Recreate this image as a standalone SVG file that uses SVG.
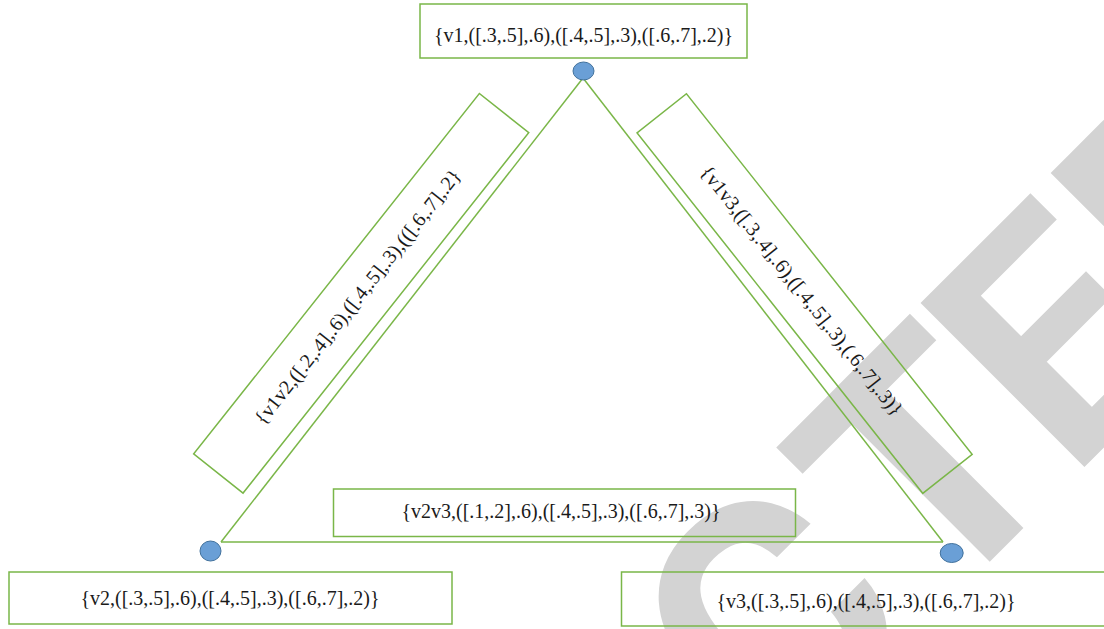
<svg xmlns="http://www.w3.org/2000/svg" width="1104" height="629" viewBox="0 0 1104 629">
  <style>
    .box { fill: none; stroke: #7ab648; stroke-width: 1.5; }
    .edge { fill: none; stroke: #7ab648; stroke-width: 1.5; }
    .vertex { fill: #6a9fd6; stroke: #41719c; stroke-width: 1; }
    .label { font-family: "Liberation Serif", "Times New Roman", serif; font-size: 20px; fill: #1a1a1a; text-anchor: middle; }
    .mark { font-family: Roboto, "Liberation Sans", sans-serif; font-weight: 700; font-size: 326px; fill: #d3d3d3; }
  </style>
  <rect width="1104" height="629" fill="#ffffff"/>

  <!-- background stamp -->
  <g id="stamp">
    <text class="mark" transform="rotate(-45)" x="0 226 416 600" y="1097">CTED</text>
  </g>

  <!-- triangle connecting the three vertices -->
  <g id="connectors">
    <line class="edge" x1="583" y1="78" x2="221" y2="542"/>
    <line class="edge" x1="583" y1="78" x2="943" y2="542"/>
    <line class="edge" x1="221" y1="542" x2="943" y2="542"/>
  </g>

  <!-- vertices -->
  <g id="v1">
    <rect class="box" x="420" y="4" width="327" height="54"/>
    <text class="label" x="583.5" y="41.5">{v1,([.3,.5],.6),([.4,.5],.3),([.6,.7],.2)}</text>
    <ellipse class="vertex" cx="583.5" cy="71" rx="10.5" ry="9"/>
  </g>
  <g id="v2">
    <ellipse class="vertex" cx="210.5" cy="551" rx="10.5" ry="10"/>
    <rect class="box" x="9" y="572" width="443" height="52"/>
    <text class="label" x="230" y="605">{v2,([.3,.5],.6),([.4,.5],.3),([.6,.7],.2)}</text>
  </g>
  <g id="v3">
    <ellipse class="vertex" cx="951.7" cy="553" rx="11.5" ry="9.5"/>
    <rect class="box" x="621.5" y="572" width="500" height="54"/>
    <text class="label" x="866" y="608">{v3,([.3,.5],.6),([.4,.5],.3),([.6,.7],.2)}</text>
  </g>

  <!-- edge labels -->
  <g id="e12" transform="translate(361.2 293.3) rotate(-51.6)">
    <rect class="box" x="-230" y="-31.5" width="460" height="63"/>
    <text class="label" x="-5" y="6">{v1v2,([.2,.4],.6),([.4,.5],.3),(([.6,.7],.2}</text>
  </g>
  <g id="e13" transform="translate(804.6 293.6) rotate(51.6)">
    <rect class="box" x="-230" y="-31.5" width="460" height="63"/>
    <text class="label" x="-4" y="7">{v1v3,([.3,.4],.6),([.4,.5],.3),(.6,.7],.3)}</text>
  </g>
  <g id="e23">
    <rect class="box" x="333.5" y="489" width="462" height="47.5"/>
    <text class="label" x="561" y="518">{v2v3,([.1,.2],.6),([.4,.5],.3),([.6,.7],.3)}</text>
  </g>
</svg>
